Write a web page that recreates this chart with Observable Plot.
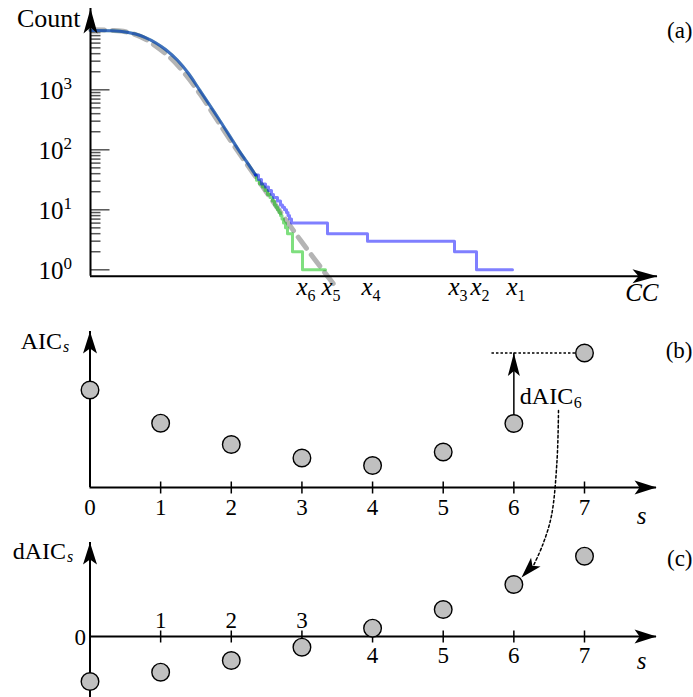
<!DOCTYPE html>
<html><head><meta charset="utf-8">
<script src="https://cdn.jsdelivr.net/npm/d3@7"></script>
<script src="https://cdn.jsdelivr.net/npm/@observablehq/plot@0.6"></script>
<style>
html,body{margin:0;padding:0;background:#fff;}
#wrap{position:relative;width:693px;height:697px;overflow:hidden;background:#fff;}
#wrap svg{position:absolute;left:0;overflow:visible !important;background:none !important;}
</style></head><body><div id="wrap"></div>
<script>
// ---------------- Panel (a): CCDF of CC (log count) ----------------
const topCC    = [0, 2.2, 3.5, 4.5, 5.5, 6.5, 7.5, 8.7, 9.8, 10.9, 12.8, 14.8, 15.8, 16.5];
const topCount = [9700, 9600, 9200, 8500, 7400, 6100, 4700, 3100, 1870, 1000, 333, 100, 57, 38];
const blueTailCC    = [16.5, 16.8, 17.1, 17.5, 17.8, 18.1, 18.3, 18.7, 19.0, 19.2, 19.4, 19.6, 19.75, 19.9, 20.1, 23.7, 27.7, 36.4, 38.6, 42.2];
const blueTailCount = [38, 32, 27, 24, 21, 18, 16, 14, 12, 11, 10, 9, 8, 7, 6, 4, 3, 2, 1, 1];
const greenTailCC    = [16.5, 16.6, 16.9, 17.2, 17.45, 17.7, 17.95, 18.2, 18.4, 18.55, 18.7, 18.85, 19.0, 19.15, 19.3, 19.5, 19.7, 20.2, 21.2, 23.5];
const greenTailCount = [38, 31, 27, 24, 21, 18, 16, 14, 12, 11, 10, 9, 8, 7, 6, 5, 4, 2, 1, 1];
const fitCC    = [0, 2.0, 3.5, 5.0, 6.5, 8.0, 9.5, 11.0, 14.0, 17.0, 21.0, 24.6];
const fitCount = [10000, 9800, 9300, 7700, 5400, 3400, 1800, 830, 143, 27.4, 3.1, 0.5];
const xMarkCC  = [42.2, 38.6, 36.4, 27.7, 23.7, 21.2];
const xMarkSub = ["1", "2", "3", "4", "5", "6"];
const majorTicks = [1, 10, 100, 1000];
const majorExp   = ["0", "1", "2", "3"];
const minorTicks = [1, 10, 100, 1000].flatMap(b => [2,3,4,5,6,7,8,9].map(m => m * b));
const aAxis = {xMax: 56.7, yMin: 0.782, yMax: 22650};

// ---------------- Panels (b) and (c) ----------------
const sValues = [0, 1, 2, 3, 4, 5, 6, 7];
const aic     = [9.75, 6.43, 4.3, 2.95, 2.2, 3.55, 6.4, 13.45];
const daic    = [-4.5, -3.57, -2.4, -1.07, 0.83, 2.7, 5.2, 8.03];
const bAxis = {sMax: 8.02, yMax: 15.6};
const cAxis = {sMax: 8.02, yMin: -7, yMax: 9.4};
const guideStartS = 5.69;
const curveArrowS = [6.632, 6.611, 6.533, 6.41, 6.278];
const curveArrowY = [22.6, 17.6, 12.1, 9.2, 7.1];
const curveTip = {s: 6.108, y: 5.9};

const F = "Liberation Serif";
function head(angle, len, wid, notch) {
  const a = angle * Math.PI / 180, c = Math.cos(a), s = Math.sin(a);
  const pts = [[0,0],[-len,wid/2],[-len+notch,0],[-len,-wid/2]];
  return {draw(ctx) {
    pts.forEach(([x,y],i) => { const X = x*c - y*s, Y = x*s + y*c; i ? ctx.lineTo(X,Y) : ctx.moveTo(X,Y); });
    ctx.closePath();
  }};
}
const tickRight = {draw(ctx, size){ const r = Math.sqrt(size/Math.PI); ctx.moveTo(0,0); ctx.lineTo(r,0); }};
const tickCross = {draw(ctx, size){ const r = Math.sqrt(size/Math.PI); ctx.moveTo(0,-r); ctx.lineTo(0,r); }};
const pts = (xs, ys) => xs.map((x,i) => ({x, y: ys[i]}));
const T = {fontFamily: F, fill: "black", lineAnchor: "bottom"};
const LBL = 25, TCK = 23, SUB = 16;

const plotA = Plot.plot({
  width: 693, height: 310, margin: 0,
  style: {fontFamily: F, overflow: "visible", background: "none"},
  x: {domain: [0, 56.7], range: [90, 657], axis: null},
  y: {type: "log", domain: [1, 1e4], range: [269.3, 29.3], axis: null},
  marks: [
    Plot.dot(minorTicks, {x: 0, y: d => d, r: 10, symbol: tickRight, stroke: "#555", strokeWidth: 1.5, fill: "none"}),
    Plot.dot(majorTicks, {x: 0, y: d => d, r: 19, symbol: tickRight, stroke: "#555", strokeWidth: 1.5, fill: "none"}),
    Plot.line(pts(fitCC, fitCount), {x: "x", y: "y", stroke: "#b4b4b4", strokeWidth: 5, strokeDasharray: "14,8", curve: "catmull-rom"}),
    Plot.line(pts(topCC, topCount), {x: "x", y: "y", stroke: "#00c000", strokeOpacity: 0.5, strokeWidth: 3, curve: "catmull-rom"}),
    Plot.line(pts(greenTailCC, greenTailCount), {x: "x", y: "y", stroke: "#00c000", strokeOpacity: 0.5, strokeWidth: 3, curve: "step-after"}),
    Plot.line(pts(topCC, topCount), {x: "x", y: "y", stroke: "#0000ff", strokeOpacity: 0.5, strokeWidth: 3, curve: "catmull-rom"}),
    Plot.line(pts(blueTailCC, blueTailCount), {x: "x", y: "y", stroke: "#0000ff", strokeOpacity: 0.5, strokeWidth: 3, curve: "step-after"}),
    Plot.ruleY([aAxis.yMin], {x1: 0, x2: aAxis.xMax, stroke: "black", strokeWidth: 2}),
    Plot.ruleX([0], {y1: aAxis.yMin, y2: aAxis.yMax, stroke: "black", strokeWidth: 2}),
    Plot.dot([0], {x: 0, y: aAxis.yMax, r: 5, symbol: head(-90, 25, 14, 6), fill: "black", stroke: "none"}),
    Plot.dot([0], {x: aAxis.xMax, y: aAxis.yMin, r: 5, symbol: head(0, 25, 14, 6), fill: "black", stroke: "none"}),
    Plot.text(majorTicks, {...T, x: 0, y: d => d, text: () => "10", textAnchor: "end", dx: -27, dy: 9, fontSize: LBL}),
    Plot.text(majorTicks, {...T, x: 0, y: d => d, text: (d,i) => majorExp[i], textAnchor: "start", dx: -27, dy: -1, fontSize: 17}),
    Plot.text(xMarkCC, {...T, x: d => d, y: aAxis.yMin, text: () => "x", textAnchor: "end", dx: 5, dy: 19, fontSize: LBL, fontStyle: "italic"}),
    Plot.text(xMarkCC, {...T, x: d => d, y: aAxis.yMin, text: (d,i) => xMarkSub[i], textAnchor: "start", dx: 5, dy: 24.5, fontSize: SUB}),
    Plot.text(["CC"], {...T, x: aAxis.xMax, y: aAxis.yMin, text: d => d, textAnchor: "end", dx: 1, dy: 25, fontSize: LBL, fontStyle: "italic"}),
    Plot.text(["Count"], {...T, x: 0, y: aAxis.yMax, text: d => d, textAnchor: "end", dx: -10, dy: 19, fontSize: 26}),
    Plot.text(["(a)"], {...T, frameAnchor: "top-right", text: d => d, textAnchor: "end", dx: -1, dy: 37, fontSize: 23})
  ]
});

const circ = {r: 8.8, fill: "#c0c0c0", stroke: "black", strokeWidth: 1.4};
const plotB = Plot.plot({
  width: 693, height: 210, margin: 0,
  style: {fontFamily: F, overflow: "visible", background: "none"},
  x: {domain: [0, 7], range: [89.5, 584], axis: null},
  y: {domain: [0, 10], range: [177, 77], axis: null},
  marks: [
    Plot.ruleY([0], {x1: 0, x2: bAxis.sMax, stroke: "black", strokeWidth: 2}),
    Plot.ruleX([0], {y1: 0, y2: bAxis.yMax, stroke: "black", strokeWidth: 2}),
    Plot.dot(sValues.slice(1), {x: d => d, y: 0, r: 6, symbol: tickCross, stroke: "black", strokeWidth: 1.5, fill: "none"}),
    Plot.text(sValues, {...T, x: d => d, y: 0, text: d => String(d), textAnchor: "middle", dy: 27, fontSize: TCK}),
    Plot.ruleY([aic[7]], {x1: guideStartS, x2: 7, stroke: "black", strokeWidth: 1.3, strokeDasharray: "2.5,2"}),
    Plot.ruleX([6], {y1: aic[6], y2: aic[7], stroke: "black", strokeWidth: 1.5}),
    Plot.dot([6], {x: 6, y: aic[7], r: 5, symbol: head(-90, 23, 12, 5), fill: "black", stroke: "none"}),
    Plot.dot(sValues, {x: d => d, y: (d,i) => aic[i], ...circ}),
    Plot.dot([0], {x: 0, y: bAxis.yMax, r: 5, symbol: head(-90, 22, 14, 5), fill: "black", stroke: "none"}),
    Plot.dot([0], {x: bAxis.sMax, y: 0, r: 5, symbol: head(0, 22, 14, 5), fill: "black", stroke: "none"}),
    Plot.text(["dAIC"], {...T, x: 6, y: (aic[6] + aic[7]) / 2, text: d => d, textAnchor: "start", dx: 6, dy: 16, fontSize: 24}),
    Plot.text(["6"], {...T, x: 6, y: (aic[6] + aic[7]) / 2, text: d => d, textAnchor: "start", dx: 60, dy: 20, fontSize: SUB}),
    Plot.text(["AIC"], {...T, x: 0, y: bAxis.yMax, text: d => d, textAnchor: "end", dx: -28, dy: 17, fontSize: 24}),
    Plot.text(["s"], {...T, x: 0, y: bAxis.yMax, text: d => d, textAnchor: "start", dx: -27, dy: 20, fontSize: SUB, fontStyle: "italic"}),
    Plot.text(["s"], {...T, x: bAxis.sMax, y: 0, text: d => d, textAnchor: "middle", dx: -15, dy: 36, fontSize: LBL, fontStyle: "italic"}),
    Plot.text(["(b)"], {...T, frameAnchor: "top-right", text: d => d, textAnchor: "end", dx: -1, dy: 47, fontSize: 23})
  ]
});

const sNeg = sValues.filter((s,i) => i > 0 && daic[i] < 0);
const sPos = sValues.filter((s,i) => i > 0 && daic[i] >= 0);
const plotC = Plot.plot({
  width: 693, height: 177, margin: 0,
  style: {fontFamily: F, overflow: "visible", background: "none"},
  x: {domain: [0, 7], range: [89.5, 584], axis: null},
  y: {domain: [0, 10], range: [116, 16], axis: null},
  marks: [
    Plot.ruleY([0], {x1: 0, x2: cAxis.sMax, stroke: "black", strokeWidth: 2}),
    Plot.ruleX([0], {y1: cAxis.yMin, y2: cAxis.yMax, stroke: "black", strokeWidth: 2}),
    Plot.dot(sValues.slice(1), {x: d => d, y: 0, r: 6, symbol: tickCross, stroke: "black", strokeWidth: 1.5, fill: "none"}),
    Plot.text(sNeg, {...T, x: d => d, y: 0, text: d => String(d), textAnchor: "middle", dy: -9, fontSize: TCK}),
    Plot.text(sPos, {...T, x: d => d, y: 0, text: d => String(d), textAnchor: "middle", dy: 26, fontSize: TCK}),
    Plot.text(["0"], {...T, x: 0, y: 0, text: d => d, textAnchor: "end", dx: -4, dy: 8, fontSize: TCK}),
    Plot.line(pts(curveArrowS, curveArrowY), {x: "x", y: "y", stroke: "black", strokeWidth: 1.5, strokeDasharray: "2.5,2.5", curve: "catmull-rom"}),
    Plot.dot([0], {x: curveTip.s, y: curveTip.y, r: 5, symbol: head(133, 21, 13, 5), fill: "black", stroke: "none"}),
    Plot.dot(sValues, {x: d => d, y: (d,i) => daic[i], ...circ}),
    Plot.dot([0], {x: 0, y: cAxis.yMax, r: 5, symbol: head(-90, 22, 14, 5), fill: "black", stroke: "none"}),
    Plot.dot([0], {x: cAxis.sMax, y: 0, r: 5, symbol: head(0, 22, 14, 5), fill: "black", stroke: "none"}),
    Plot.text(["dAIC"], {...T, x: 0, y: cAxis.yMax, text: d => d, textAnchor: "end", dx: -24, dy: 16, fontSize: 24}),
    Plot.text(["s"], {...T, x: 0, y: cAxis.yMax, text: d => d, textAnchor: "start", dx: -23, dy: 19, fontSize: SUB, fontStyle: "italic"}),
    Plot.text(["s"], {...T, x: cAxis.sMax, y: 0, text: d => d, textAnchor: "middle", dx: -15, dy: 32, fontSize: LBL, fontStyle: "italic"}),
    Plot.text(["(c)"], {...T, frameAnchor: "top-right", text: d => d, textAnchor: "end", dx: -1, dy: 45, fontSize: 23})
  ]
});

const wrap = document.getElementById("wrap");
[[plotA, 0], [plotB, 310], [plotC, 520]].forEach(([svg, top]) => {
  svg.style.position = "absolute";
  svg.style.top = top + "px";
  svg.style.left = "0px";
  wrap.appendChild(svg);
});
</script>
</body></html>
